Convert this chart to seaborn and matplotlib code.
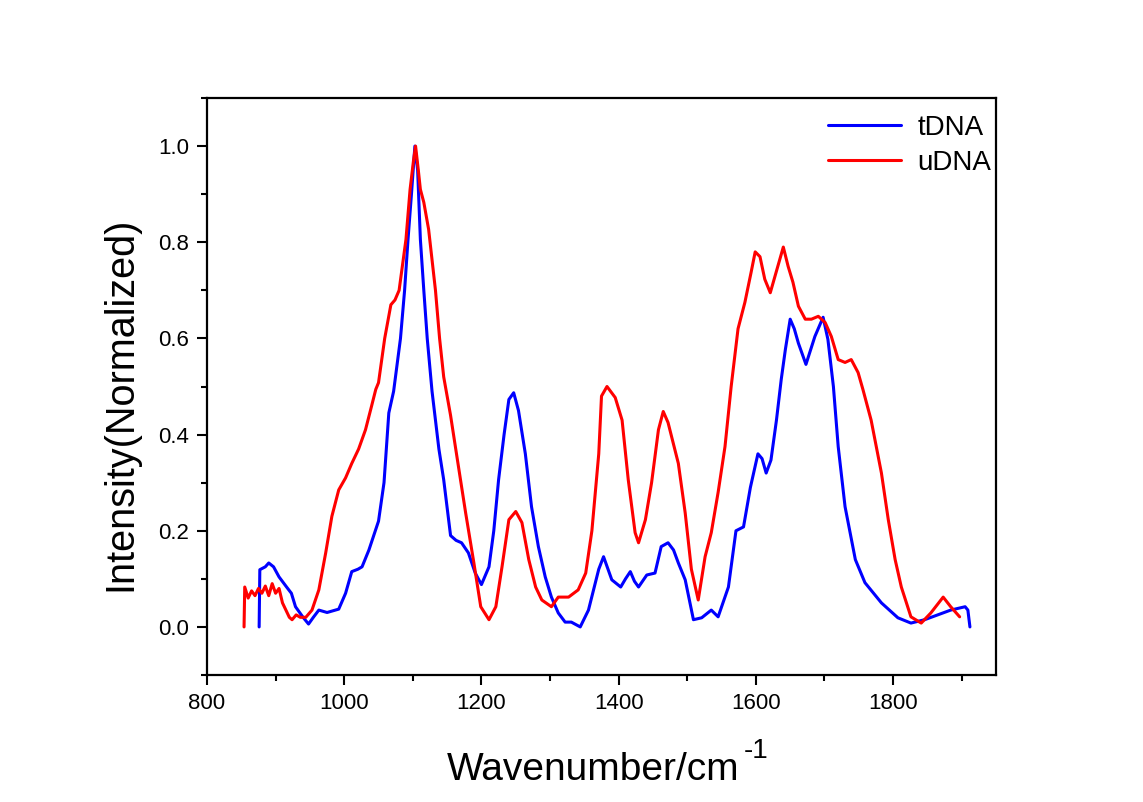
import numpy as np
import pandas as pd
import matplotlib
matplotlib.use("Agg")
import matplotlib.pyplot as plt
import seaborn as sns
from matplotlib.ticker import MultipleLocator

# ---------------- data ----------------
t_wn = [876, 877, 885, 890, 897, 905, 916, 923, 929, 940,
        948, 955, 963, 975, 992, 1002, 1011, 1020, 1026, 1036,
        1050, 1058, 1065, 1072, 1082, 1088, 1093, 1098, 1103, 1107,
        1111, 1116, 1121, 1128, 1138, 1145, 1155, 1163, 1171, 1181,
        1191, 1200, 1211, 1218, 1225, 1233, 1240, 1247, 1254, 1264,
        1273, 1283, 1293, 1302, 1312, 1322, 1331, 1344, 1356, 1371,
        1378, 1390, 1403, 1410, 1417, 1423, 1429, 1441, 1453, 1462,
        1472, 1480, 1487, 1497, 1509, 1521, 1535, 1545, 1560, 1571,
        1582, 1592, 1603, 1609, 1615, 1622, 1630, 1637, 1643, 1650,
        1656, 1662, 1673, 1686, 1698, 1705, 1713, 1720, 1730, 1745,
        1759, 1783, 1807, 1826, 1846, 1865, 1884, 1905, 1909, 1912]
t_int = [0.0, 0.119, 0.125, 0.133, 0.125, 0.104, 0.083, 0.07, 0.042, 0.02,
         0.006, 0.02, 0.035, 0.03, 0.037, 0.07, 0.115, 0.12, 0.125, 0.16,
         0.22, 0.30, 0.445, 0.49, 0.60, 0.70, 0.806, 0.90, 1.0, 0.95,
         0.806, 0.70, 0.60, 0.49, 0.37, 0.306, 0.19, 0.18, 0.175, 0.154,
         0.112, 0.088, 0.125, 0.20, 0.306, 0.40, 0.473, 0.487, 0.45, 0.36,
         0.25, 0.167, 0.104, 0.062, 0.029, 0.01, 0.01, 0.0, 0.035, 0.12,
         0.146, 0.098, 0.083, 0.10, 0.115, 0.095, 0.083, 0.108, 0.112, 0.167,
         0.175, 0.16, 0.133, 0.098, 0.015, 0.019, 0.035, 0.021, 0.083, 0.20,
         0.208, 0.29, 0.36, 0.35, 0.32, 0.347, 0.43, 0.515, 0.577, 0.64,
         0.62, 0.59, 0.546, 0.604, 0.644, 0.598, 0.50, 0.375, 0.25, 0.14,
         0.092, 0.05, 0.019, 0.008, 0.015, 0.025, 0.035, 0.042, 0.035, 0.0]

u_wn = [854, 855, 860, 865, 870, 875, 880, 885, 890, 895,
        900, 905, 910, 915, 920, 924, 930, 936, 944, 953,
        963, 973, 982, 992, 1002, 1011, 1021, 1031, 1040, 1046,
        1050, 1059, 1068, 1074, 1080, 1090, 1096, 1101, 1104, 1108,
        1111, 1116, 1123, 1133, 1139, 1145, 1155, 1162, 1177, 1189,
        1199, 1211, 1221, 1230, 1240, 1250, 1259, 1269, 1279, 1288,
        1302, 1312, 1327, 1341, 1352, 1361, 1371, 1375, 1383, 1395,
        1405, 1414, 1424, 1429, 1439, 1448, 1458, 1465, 1472, 1487,
        1497, 1506, 1516, 1526, 1535, 1545, 1555, 1564, 1574, 1584,
        1593, 1599, 1606, 1613, 1621, 1628, 1636, 1640, 1647, 1654,
        1662, 1672, 1681, 1691, 1701, 1710, 1720, 1730, 1739, 1749,
        1756, 1768, 1783, 1793, 1803, 1812, 1826, 1841, 1855, 1873,
        1884, 1897]
u_int = [0.0, 0.083, 0.06, 0.075, 0.065, 0.08, 0.07, 0.085, 0.065, 0.09,
         0.07, 0.08, 0.05, 0.035, 0.02, 0.015, 0.025, 0.02, 0.02, 0.035,
         0.077, 0.154, 0.23, 0.285, 0.31, 0.34, 0.37, 0.41, 0.46, 0.494,
         0.508, 0.60, 0.67, 0.68, 0.70, 0.806, 0.91, 0.97, 1.0, 0.95,
         0.91, 0.883, 0.827, 0.70, 0.60, 0.52, 0.44, 0.375, 0.237, 0.133,
         0.042, 0.015, 0.042, 0.125, 0.223, 0.24, 0.217, 0.14, 0.083, 0.056,
         0.042, 0.062, 0.062, 0.077, 0.112, 0.20, 0.36, 0.48, 0.50, 0.477,
         0.43, 0.306, 0.196, 0.175, 0.223, 0.30, 0.41, 0.448, 0.425, 0.34,
         0.237, 0.12, 0.056, 0.146, 0.196, 0.28, 0.375, 0.50, 0.62, 0.675,
         0.737, 0.78, 0.77, 0.723, 0.695, 0.73, 0.77, 0.79, 0.75, 0.717,
         0.667, 0.64, 0.64, 0.646, 0.633, 0.604, 0.556, 0.55, 0.556, 0.529,
         0.494, 0.43, 0.32, 0.223, 0.14, 0.083, 0.021, 0.008, 0.029, 0.062,
         0.042, 0.021]

series_names = ["tDNA", "uDNA"]
series_colors = ["#0000FF", "#FF0000"]
x_ticks = [800, 1000, 1200, 1400, 1600, 1800]
y_ticks = [0.0, 0.2, 0.4, 0.6, 0.8, 1.0]

df = pd.concat([
    pd.DataFrame({"wn": t_wn, "I": t_int, "s": series_names[0]}),
    pd.DataFrame({"wn": u_wn, "I": u_int, "s": series_names[1]}),
], ignore_index=True)

# ---------------- style ----------------
sns.set_style("ticks")
plt.rcParams["font.family"] = ["Liberation Sans", "DejaVu Sans"]
for k in ["text.color", "axes.labelcolor", "xtick.color", "ytick.color", "axes.edgecolor"]:
    plt.rcParams[k] = "black"

fig = plt.figure(figsize=(11.43, 8.02), dpi=100)
ax = fig.add_axes([207 / 1143, 1 - 675 / 802, (996 - 207) / 1143, (675 - 98) / 802])

sns.lineplot(data=df, x="wn", y="I", hue="s", palette=series_colors,
             hue_order=series_names, sort=False, estimator=None,
             linewidth=2.2, ax=ax)

ax.set_xlim(800, 1950)
ax.set_ylim(-0.1, 1.1)
ax.set_xticks(x_ticks)
ax.set_xticklabels([str(v) for v in x_ticks])
ax.set_yticks(y_ticks)
ax.set_yticklabels([f"{v:.1f}" for v in y_ticks])
ax.xaxis.set_minor_locator(MultipleLocator(100))
ax.yaxis.set_minor_locator(MultipleLocator(0.1))
ax.tick_params(axis="both", which="major", direction="out", length=7, width=1.5,
               labelsize=16, colors="black", pad=6)
ax.tick_params(axis="both", which="minor", direction="out", length=4, width=1.5)
for sp in ax.spines.values():
    sp.set_visible(True)
    sp.set_linewidth(1.6)
    sp.set_color("black")

ax.set_xlabel("Wavenumber/cm", fontsize=28)
ax.xaxis.set_label_coords(0.49, -0.133)
ax.set_ylabel("Intensity(Normalized)", fontsize=28.5)
ax.yaxis.set_label_coords(-0.086, 0.47)

leg = ax.legend(loc="upper right", frameon=False, fontsize=20,
                handlelength=2.6, handletextpad=0.6, labelspacing=0.33,
                borderaxespad=0.0, bbox_to_anchor=(1.008, 0.99))
for h in leg.get_lines():
    h.set_linewidth(2.2)

# superscript "-1" after the x label
fig.canvas.draw()
bb = ax.xaxis.label.get_window_extent()
em = 28 * 100 / 72.0
fig.text((bb.x1 + 4) / 1143, (bb.y0 + 0.22 * em + 0.72 * em - 7) / 802, "-1",
         fontsize=20, ha="left", va="baseline", color="black")

fig.savefig("out.png", dpi=100, facecolor="white")
